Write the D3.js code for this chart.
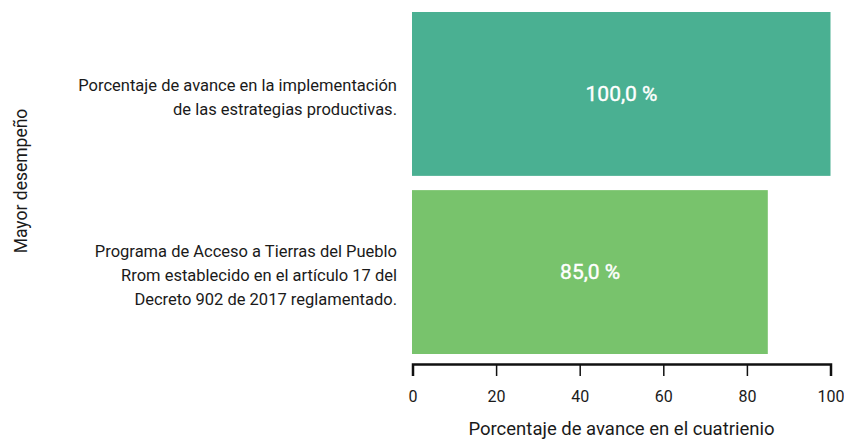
<!DOCTYPE html>
<html>
<head>
<meta charset="utf-8">
<script src="https://cdn.jsdelivr.net/npm/d3@7"></script>
<style>
  body { margin: 0; background: #fff; }
  text { font-family: "Roboto", "Liberation Sans", sans-serif; }
</style>
</head>
<body>
<script>
// datos
const labels = [
  ["Porcentaje de avance en la implementación", "de las estrategias productivas."],
  ["Programa de Acceso a Tierras del Pueblo", "Rrom establecido en el artículo 17 del", "Decreto 902 de 2017 reglamentado."]
];
const values = [100, 85];
const colors = ["#4AB092", "#78C36C"];
const xTicks = [0, 20, 40, 60, 80, 100];

const W = 844, H = 440;
const svg = d3.select("body").append("svg")
  .attr("width", W).attr("height", H);

const x = d3.scaleLinear().domain([0, 100]).range([412.5, 830.5]);
const y = d3.scaleBand().domain(d3.range(values.length)).range([12, 354]).paddingInner(0.08);

// barras
svg.append("g").selectAll("rect")
  .data(values)
  .join("rect")
  .attr("x", x(0) - 0.5)
  .attr("y", (d, i) => y(i))
  .attr("width", d => x(d) - x(0) + 0.5)
  .attr("height", y.bandwidth())
  .attr("fill", (d, i) => colors[i]);

// valores dentro de las barras
svg.append("g").selectAll("text")
  .data(values)
  .join("text")
  .attr("x", d => (x(0) + x(d)) / 2)
  .attr("y", (d, i) => y(i) + y.bandwidth() / 2)
  .attr("dy", "0.35em")
  .attr("text-anchor", "middle")
  .attr("fill", "#fff")
  .attr("stroke", "#fff")
  .attr("stroke-width", 0.4)
  .style("font-size", "21px")
  .text(d => d.toFixed(1).replace(".", ",") + " %");

// etiquetas de categoría
const lh = 24;
labels.forEach((lines, i) => {
  const cy = y(i) + y.bandwidth() / 2 + 3;
  const t = svg.append("text")
    .attr("text-anchor", "end")
    .attr("fill", "#1a1a1a")
    .style("font-size", "16.5px");
  lines.forEach((l, j) => {
    t.append("tspan")
      .attr("x", 397)
      .attr("y", cy + (j - (lines.length - 1) / 2) * lh)
      .attr("dy", "0.35em")
      .text(l);
  });
});

// eje x
const ax = svg.append("g")
  .attr("transform", "translate(0,364)")
  .call(d3.axisBottom(x).tickValues(xTicks).tickSize(12).tickPadding(15).tickFormat(d3.format("d")));
ax.select(".domain").attr("stroke", "#111").attr("stroke-width", 2.5);
ax.selectAll(".tick line").attr("stroke", "#111").attr("stroke-width", 1.5);
ax.selectAll(".tick text").style("font-size", "16px").attr("fill", "#1a1a1a")
  .style("font-family", "Roboto, sans-serif");

svg.append("text")
  .attr("x", (x(0) + x(100)) / 2)
  .attr("y", 435)
  .attr("text-anchor", "middle")
  .attr("fill", "#1a1a1a")
  .style("font-size", "18.5px")
  .text("Porcentaje de avance en el cuatrienio");

svg.append("text")
  .attr("transform", "translate(27,181) rotate(-90)")
  .attr("text-anchor", "middle")
  .attr("fill", "#1a1a1a")
  .style("font-size", "17.5px")
  .text("Mayor desempeño");
</script>
</body>
</html>
